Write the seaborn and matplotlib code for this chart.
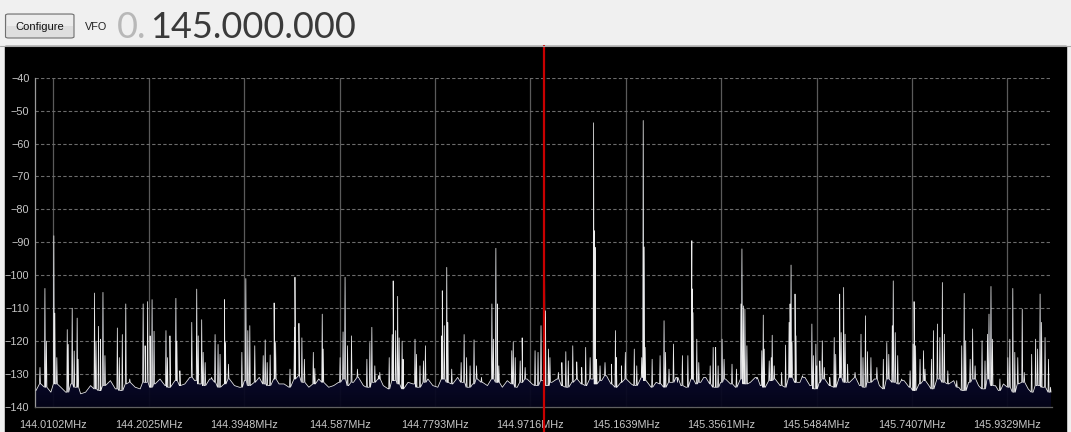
# SDR spectrum view: 2 MHz around 145.000 MHz, noise floor plus carrier spikes

import numpy as np
import pandas as pd
import matplotlib.pyplot as plt
import seaborn as sns
from matplotlib.colors import LinearSegmentedColormap
from matplotlib.patches import Rectangle, FancyBboxPatch
from matplotlib.lines import Line2D
from matplotlib.transforms import blended_transform_factory

# ── data ───────────────────────────────────────────────────────────────────
vfo_mhz = 145.0
tick_mhz = [144.0102, 144.2025, 144.3948, 144.587, 144.7793, 144.9716,
            145.1639, 145.3561, 145.5484, 145.7407, 145.9329]
db_ticks = [-40, -50, -60, -70, -80, -90, -100, -110, -120, -130, -140]

# noise floor, one reading every 10 kHz from 143.975 to 146.015 MHz
floor_db = [
    -135, -133, -134, -135.5, -133, -134, -135.5, -133, -134, -136,
    -135.5, -133.5, -134.5, -135, -133.5, -132, -134.5, -135, -133, -132.5,
    -134, -134.5, -132.5, -134, -133, -131.5, -133.5, -134, -132, -133.5,
    -133, -131, -132, -133, -133.5, -131.5, -132.5, -134, -133, -131.5,
    -133.5, -134, -132, -133.5, -132.5, -131, -133, -133.5, -131.5, -133,
    -133, -134, -131.5, -130.5, -132.5, -134, -133, -131.5, -132.5, -134,
    -133.5, -132.5, -131.5, -133.5, -132.5, -131, -133.5, -134, -132.5, -131.5,
    -133.5, -134.5, -132, -133, -134.5, -132.5, -133, -134, -132.5, -131.5,
    -133.5, -134, -131.5, -132.5, -133, -131, -132.5, -134, -133, -131.5,
    -132.5, -133.5, -131.5, -132.5, -134, -132, -133, -134, -132.5, -131.5,
    -133, -133.5, -132, -133.5, -132.5, -131.5, -133.5, -134, -132.5, -131.5,
    -133, -133.5, -131.5, -133, -132, -130.5, -133, -134, -132.5, -131.5,
    -133, -133.5, -131, -132, -134, -132.5, -133, -134, -132.5, -131,
    -133.5, -134, -131.5, -133, -132.5, -131, -133, -134, -132.5, -131.5,
    -133, -134, -131.5, -133, -132.5, -131, -133.5, -134, -132, -131.5,
    -133.5, -134, -131, -132.5, -132.5, -131, -133.5, -134.5, -132.5, -131.5,
    -133.5, -134, -131, -132.5, -132.5, -131, -133.5, -134, -132.5, -131.5,
    -133.5, -134.5, -131.5, -132.5, -133, -132, -134, -135, -133, -132,
    -133.5, -134.5, -131.5, -132.5, -133, -132, -134, -135, -132.5, -131.5,
    -133.5, -134.5, -131.5, -133.5, -135, -133, -134, -135.5, -133, -132.5,
    -134.5, -135.5, -133.5, -134, -135.5,
]

# individual spikes (MHz, dBm)
peak_mhz = [
    143.983, 143.993, 143.996, 144.011, 144.013, 144.017, 144.038, 144.040, 144.048, 144.052,
    144.058, 144.060, 144.093, 144.096, 144.101, 144.105, 144.110, 144.114, 144.139, 144.143,
    144.149, 144.156, 144.164, 144.191, 144.195, 144.200, 144.205, 144.209, 144.213, 144.237,
    144.240, 144.245, 144.257, 144.259, 144.265, 144.289, 144.299, 144.302, 144.309, 144.312,
    144.316, 144.329, 144.336, 144.342, 144.346, 144.355, 144.357, 144.363, 144.390, 144.398,
    144.402, 144.406, 144.416, 144.433, 144.437, 144.441, 144.447, 144.455, 144.458, 144.487,
    144.496, 144.497, 144.505, 144.511, 144.516, 144.534, 144.537, 144.552, 144.554, 144.588,
    144.594, 144.598, 144.603, 144.611, 144.623, 144.642, 144.648, 144.652, 144.658, 144.665,
    144.668, 144.687, 144.693, 144.695, 144.700, 144.704, 144.707, 144.713, 144.715, 144.739,
    144.742, 144.749, 144.756, 144.760, 144.793, 144.794, 144.798, 144.803, 144.805, 144.813,
    144.832, 144.838, 144.843, 144.850, 144.858, 144.863, 144.873, 144.894, 144.897, 144.902,
    144.905, 144.908, 144.934, 144.937, 144.941, 144.951, 144.955, 144.961, 144.981, 144.987,
    144.993, 145.000, 145.002, 145.008, 145.011, 145.028, 145.035, 145.043, 145.048, 145.057,
    145.065, 145.075, 145.083, 145.092, 145.099, 145.101, 145.102, 145.105, 145.112, 145.122,
    145.135, 145.143, 145.145, 145.155, 145.163, 145.181, 145.186, 145.196, 145.199, 145.201,
    145.203, 145.217, 145.233, 145.241, 145.244, 145.251, 145.260, 145.268, 145.278, 145.289,
    145.297, 145.298, 145.299, 145.307, 145.311, 145.322, 145.334, 145.340, 145.345, 145.350,
    145.358, 145.362, 145.378, 145.387, 145.396, 145.398, 145.401, 145.404, 145.408, 145.428,
    145.438, 145.441, 145.443, 145.453, 145.457, 145.459, 145.463, 145.478, 145.486, 145.493,
    145.495, 145.497, 145.499, 145.505, 145.507, 145.520, 145.539, 145.542, 145.547, 145.549,
    145.555, 145.560, 145.564, 145.575, 145.584, 145.587, 145.595, 145.598, 145.603, 145.606,
    145.611, 145.626, 145.638, 145.642, 145.647, 145.651, 145.658, 145.670, 145.683, 145.690,
    145.694, 145.701, 145.703, 145.707, 145.712, 145.720, 145.737, 145.743, 145.745, 145.748,
    145.757, 145.764, 145.767, 145.780, 145.784, 145.792, 145.797, 145.802, 145.806, 145.813,
    145.831, 145.841, 145.846, 145.849, 145.858, 145.863, 145.868, 145.882, 145.888, 145.893,
    145.896, 145.900, 145.903, 145.908, 145.918, 145.934, 145.938, 145.944, 145.948, 145.954,
    145.963, 145.967, 145.982, 145.990, 145.994, 145.999, 146.002, 146.009, 146.016, 146.020,
]
peak_db = [
    -128, -104, -120, -88, -111.5, -125, -116.5, -121, -110, -123,
    -113, -125.5, -105.4, -120, -115.5, -119.4, -105.2, -124.4, -116, -125,
    -118, -108.7, -131.5, -108.7, -121.4, -108, -118.4, -107.4, -117, -116.8,
    -125, -118.4, -107, -120, -129, -114.3, -104.2, -118.4, -113.5, -123.4,
    -126.5, -131, -118, -121, -124, -107.4, -120.4, -127, -123.4, -101,
    -116.8, -115.3, -121.4, -124.4, -119.6, -126.5, -124.2, -108.4, -120.4, -128.5,
    -115.8, -100.6, -114.6, -119, -125.5, -123.4, -128.3, -111.8, -122.4, -125,
    -117.2, -100.6, -121.4, -118.4, -128.5, -125.5, -120.4, -115.8, -127.5, -130.5,
    -129.5, -125, -118, -101.7, -116.8, -106.4, -119, -120, -125.5, -119.4,
    -124, -127.5, -126, -121.4, -118.4, -104.7, -115.3, -97.6, -114.3, -128.5,
    -126.5, -118, -125, -127.5, -119.6, -127.5, -131, -108.7, -119.4, -91.8,
    -108.7, -127.5, -122.9, -120.2, -125, -126, -119, -128, -122.9, -123.4,
    -115.3, -89, -110.8, -122.4, -125, -129.5, -126.5, -123.2, -126, -121.4,
    -126.3, -128, -121.9, -125, -53.7, -86.5, -91.5, -125.5, -127.5, -126.5,
    -127, -116.8, -125, -127.5, -123.4, -122.4, -127.5, -125, -53, -91.4,
    -121.9, -125.5, -124.4, -113.8, -123.4, -128.5, -120.9, -132.5, -124.4, -124.4,
    -89.5, -104.2, -111.3, -119.4, -126.5, -131, -127.5, -121.9, -121.9, -127.5,
    -119.4, -125.5, -127, -128.5, -108.7, -92, -109.3, -110.3, -121.4, -131.5,
    -122.9, -112.1, -122.4, -126, -125, -118.2, -127.5, -129.5, -121.2, -114.3,
    -108.7, -96.9, -120.4, -105.7, -118.4, -130.5, -114.8, -124.4, -120.9, -127.5,
    -126, -119.9, -128, -131, -118.9, -124, -105.7, -117.4, -103.7, -117.9,
    -127, -129.5, -117.9, -125, -112.3, -123.2, -125, -128, -125.5, -120.4,
    -124, -115.3, -101.7, -117.4, -124.4, -131.5, -129, -120.9, -108, -121.4,
    -125.5, -122.9, -128.5, -125.5, -116.8, -114.8, -118.9, -102.2, -117.9, -129,
    -132, -121.4, -105.5, -119.9, -125.5, -116.3, -127.5, -119.9, -126, -117.9,
    -111.8, -103.4, -119.4, -133.6, -131.5, -125, -119.4, -104, -123.4, -125,
    -110.3, -129.5, -124, -119.4, -122.4, -105.7, -114.3, -118.9, -125.5, -134,
]

# ── build the trace: floor readings plus narrow spikes ─────────────────────
floor_mhz = np.linspace(143.975, 146.015, len(floor_db))
floor_arr = np.array(floor_db)
half_w = 0.001  # spike half width in MHz (about half a pixel)

f_pts, db_pts = list(floor_mhz), list(floor_db)
for f, db in zip(peak_mhz, peak_db):
    base = floor_arr[np.abs(floor_mhz - f).argmin()]
    f_pts += [f - half_w, f, f + half_w]
    db_pts += [base, db, base]

trace = pd.DataFrame({'mhz': f_pts, 'db': db_pts}).sort_values('mhz', kind='stable')

# ── styling ────────────────────────────────────────────────────────────────
sns.set_style('dark', {'axes.facecolor': 'black', 'figure.facecolor': '#f0f0f0'})
plt.rcParams['font.family'] = ['Liberation Sans', 'DejaVu Sans']

W, H = 1071, 432
fig = plt.figure(figsize=(W / 100, H / 100), dpi=100)


def fx(x):
    return x / W


def fy(y):
    return 1 - y / H


# black panel below the toolbar
fig.add_artist(Rectangle((fx(5), 0), fx(1066 - 5), 1 - 46 / H,
                         transform=fig.transFigure, color='black', zorder=0))
fig.add_artist(Line2D([fx(0), fx(W)], [fy(45.5), fy(45.5)],
                      transform=fig.transFigure, color='#a8a8a8', lw=0.8))

# toolbar: button, label and the big frequency readout
fig.add_artist(FancyBboxPatch((fx(5.5), fy(38)), fx(68.5), 24 / H,
                              boxstyle='round,pad=0,rounding_size=0.003',
                              transform=fig.transFigure, facecolor='#dedede',
                              edgecolor='#707070', lw=0.8))
fig.add_artist(Rectangle((fx(6.5), fy(26)), fx(66.5), 11 / H,
                         transform=fig.transFigure, color='#ececec', lw=0))
fig.text(fx(40), fy(26.5), 'Configure', fontsize=8, color='#111111',
         ha='center', va='center')
fig.text(fx(85), fy(27), 'VFO', fontsize=7.8, color='#222222', ha='left', va='center')
fig.text(fx(117), fy(38), '0.', fontsize=26, color='#b8b8b8', ha='left',
         va='baseline', family=['Lato', 'DejaVu Sans'])
fig.text(fx(150), fy(38), '145.000.000', fontsize=26, color='#3a3a3a', ha='left',
         va='baseline', family=['Lato', 'DejaVu Sans'])

# spectrum axes
ax = fig.add_axes([fx(35), 25 / H, fx(1052 - 35), (407 - 77.7) / H])
ax.set_facecolor('black')

# gradient fill under the trace, clipped to the trace outline
poly = ax.fill_between(trace['mhz'], trace['db'], -140, facecolor='none',
                       edgecolor='none')
fill_cmap = LinearSegmentedColormap.from_list(
    'sdr', [(0.0, '#05051a'), (0.1, '#0b0b2e'), (0.2, '#243064'),
            (0.35, '#5678ae'), (0.5, '#7eacdc'), (1.0, '#c0e0ff')])
grad = np.linspace(0, 1, 256).reshape(-1, 1)
img = ax.imshow(grad, extent=[143.97, 146.03, -140, -40], aspect='auto',
                origin='lower', cmap=fill_cmap, zorder=1.5, alpha=0.95)
img.set_clip_path(poly.get_paths()[0], transform=ax.transData)

sns.lineplot(data=trace, x='mhz', y='db', estimator=None, sort=False,
             color='#ececec', lw=0.55, ax=ax, zorder=3)

ax.set_xlim(143.973, 146.023)
ax.set_ylim(-140, -40)
ax.set_xticks(tick_mhz)
ax.set_xticklabels([f'{v}MHz' for v in tick_mhz])
ax.set_yticks(db_ticks)
ax.set_xlabel('')
ax.set_ylabel('')
ax.tick_params(axis='both', length=0, colors='#c8c8c8', labelsize=7.8)
ax.tick_params(axis='x', pad=9)
ax.tick_params(axis='y', pad=4)

ax.grid(False)
ax.set_axisbelow(True)
for v in tick_mhz:
    ax.axvline(v, color='#5a5a5a', lw=0.9, zorder=1)
for v in db_ticks:
    ax.axhline(v, color='#6c6c6c', lw=0.8, ls=(0, (3, 2)), zorder=1)

for side in ['top', 'right']:
    ax.spines[side].set_visible(False)
ax.spines['left'].set_color('#9a9a9a')
ax.spines['bottom'].set_color('#606060')
ax.spines['left'].set_linewidth(0.9)
ax.spines['bottom'].set_linewidth(0.9)

# VFO marker runs the full height of the black panel
trans = blended_transform_factory(ax.transData, fig.transFigure)
ax.plot([vfo_mhz, vfo_mhz], [0, 1 - 46 / H], transform=trans, color='#c80000',
        lw=1.6, clip_on=False, zorder=5)

fig.savefig('out.png', dpi=100, facecolor=fig.get_facecolor())
